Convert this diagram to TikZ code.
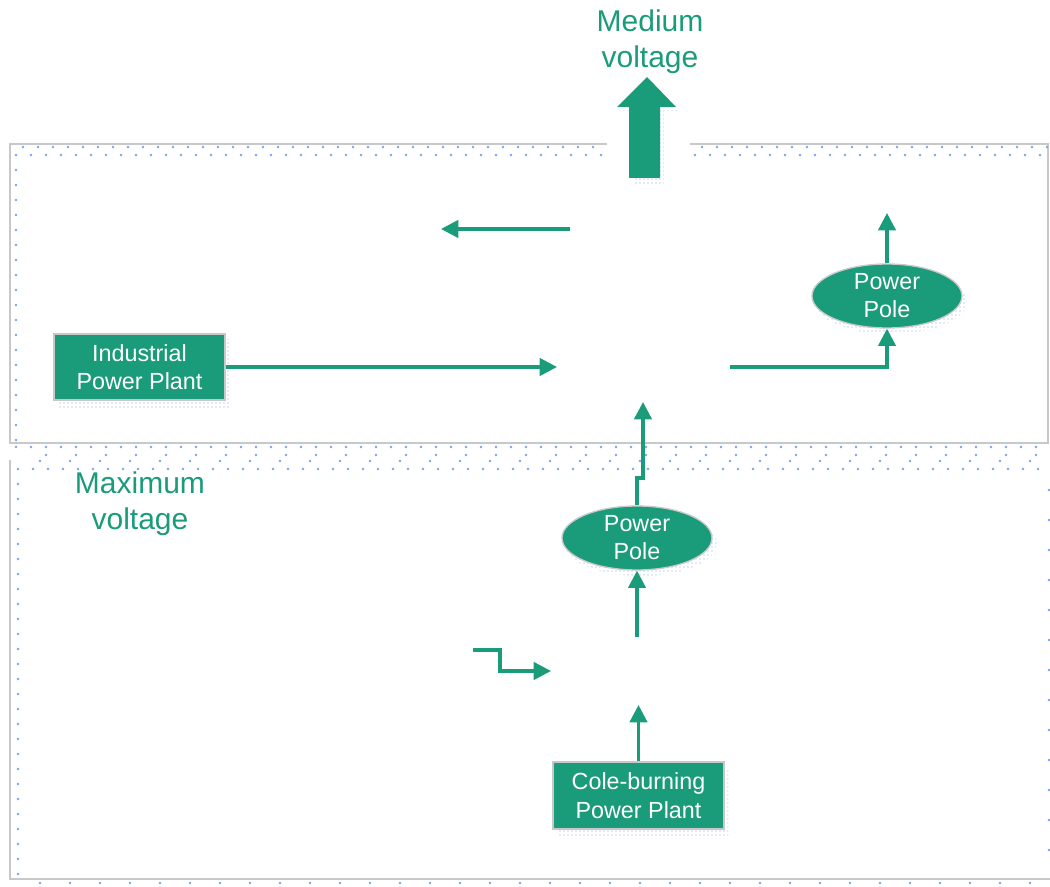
\documentclass[tikz,border=0pt]{standalone}
\usepackage{fontspec}
\setmainfont{Liberation Sans}
\usetikzlibrary{shapes.geometric,arrows.meta,patterns}
\definecolor{pgreen}{RGB}{26,155,122}
\definecolor{dotblue}{RGB}{125,162,235}
\definecolor{framegray}{RGB}{200,200,200}
\begin{document}
\begin{tikzpicture}[x=0.75pt,y=-0.75pt,
  conn/.style={draw=pgreen, line width=2.5pt, -{Triangle[length=13pt,width=13pt]}},
  plant/.style={rectangle, fill=pgreen, draw=framegray, line width=1.5pt, text=white,
    font=\fontsize{17.5}{21.5}\selectfont, align=center, minimum width=128pt,
    minimum height=50pt, inner sep=0pt},
  pole/.style={ellipse, fill=pgreen, draw=framegray, line width=1pt, text=white,
    font=\fontsize{17.5}{21}\selectfont, align=center, minimum width=112.5pt,
    minimum height=48pt, inner sep=0pt},
  vlabel/.style={text=pgreen, font=\fontsize{22.5}{27}\selectfont, align=center},
  frameline/.style={draw=framegray, line width=1.5pt},
  dotrow/.style={draw=dotblue, line width=2pt, line cap=round, dash pattern=on 0pt off 11.25pt},
  dotsparse/.style={draw=dotblue, line width=2pt, line cap=round, dash pattern=on 0pt off 22.5pt},
  dotshadow/.style={pattern=dots, pattern color=dotblue}
]
\useasboundingbox (0,0) rectangle (1050,887);

% frames
\draw[frameline] (607,144) -- (10,144) -- (10,443) -- (1048,443) -- (1048,144) -- (690,144);
\draw[frameline] (10,460) -- (10,879) -- (1050,879);

% dotted shadows of frames
\draw[dotrow] (23,147) -- (600,147);
\draw[dotrow] (702,147) -- (1048,147);
\draw[dotrow] (16,155) -- (605,155);
\draw[dotrow] (695,155) -- (1048,155);
\draw[dotrow] (16,170) -- (16,440);
\draw[dotrow] (16,447) -- (1048,447);
\draw[dotsparse] (46,455) -- (1048,455);
\draw[dotsparse] (40,461) -- (1048,461);
\draw[dotrow] (18,469) -- (1048,469);
\draw[dotrow] (18,484) -- (18,875);
\draw[dotsparse] (1049,490) -- (1049,875);
\draw[dotsparse] (40,883) -- (1048,883);

% block arrow (medium voltage)
\fill[dotshadow] (633,184) -- (633,111) -- (621,111) -- (650,81) -- (679,111) -- (664,111) -- (664,184) -- cycle;
\fill[pgreen] (629,178) -- (629,107) -- (617,107) -- (647,77) -- (676,107) -- (660,107) -- (660,178) -- cycle;

% texts
\node[vlabel] (mv) at (650,42) {Medium\\voltage};
\node[vlabel] (maxv) at (140,504) {Maximum\\voltage};

% shadows of nodes
\fill[dotshadow] (59,340) rectangle (229,408);
\fill[dotshadow] (557,768) rectangle (728,836);
\fill[dotshadow] (891,302) ellipse [x radius=57pt, y radius=24pt];
\fill[dotshadow] (641,544) ellipse [x radius=57pt, y radius=24pt];

% nodes
\node[plant] (ipp) at (139.5,367) {Industrial\\Power Plant};
\node[plant] (cpp) at (638.5,795.5) {Cole-burning\\Power Plant};
\node[pole] (pp1) at (887,296) {Power\\Pole};
\node[pole] (pp2) at (637,538) {Power\\Pole};

% free-end coordinates
\coordinate (a1) at (570,229);
\coordinate (a2) at (441,229);
\coordinate (a3) at (557,367);
\coordinate (a4) at (730,367);
\coordinate (a5) at (887,213);
\coordinate (a6) at (643,402);
\coordinate (a7) at (637,637);
\coordinate (s1) at (473,650);
\coordinate (s2) at (551,671);
\coordinate (a8) at (637,705);

% connectors
\draw[conn] (a1) -- (a2);
\draw[conn] (ipp.east) -- (a3);
\draw[conn] (a4) -| (pp1.south);
\draw[conn] (pp1.north) -- (a5);
\draw[conn] (pp2.north) -- (637,478) -- (643,478) -- (a6);
\draw[conn] (a7) -- (pp2.south);
\draw[conn] (s1) -- (500,650) -- (500,671) -- (s2);
\draw[conn] (cpp.north) -- (cpp.north |- a8);
\end{tikzpicture}
\end{document}
